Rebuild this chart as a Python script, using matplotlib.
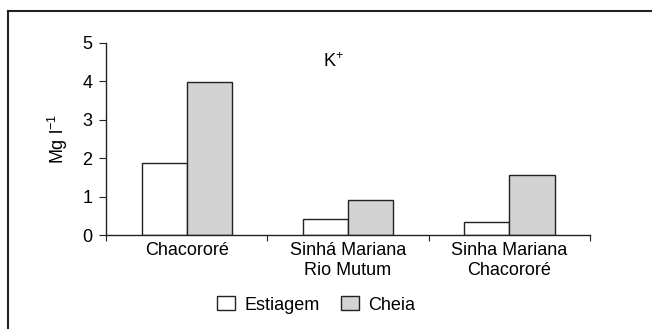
import numpy as np
import matplotlib
matplotlib.use("Agg")
import matplotlib.pyplot as plt
from matplotlib.lines import Line2D
from matplotlib.patches import Patch

plt.rcParams['font.family'] = ['Liberation Sans', 'DejaVu Sans']
plt.rcParams['mathtext.fontset'] = 'custom'
plt.rcParams['mathtext.rm'] = 'Liberation Sans'

# data
categories = ['Chacororé', 'Sinhá Mariana\nRio Mutum', 'Sinha Mariana\nChacororé']
estiagem = [1.87, 0.42, 0.35]
cheia = [3.98, 0.91, 1.57]
series_names = ['Estiagem', 'Cheia']
yticks = [0, 1, 2, 3, 4, 5]

fs = 13
fig = plt.figure(figsize=(6.52, 3.29), dpi=100)
ax = fig.add_axes([0.1626, 0.2842, 0.7424, 0.586])

x = np.arange(len(categories)) + 0.5
w = 0.28
ax.bar(x - w / 2, estiagem, w, color='white', edgecolor='#222222', linewidth=1.0)
ax.bar(x + w / 2, cheia, w, color='#d3d3d3', edgecolor='#222222', linewidth=1.0)

ax.set_xlim(0, len(categories))
ax.set_ylim(0, 5)
ax.set_yticks(yticks)
ax.set_xticks([0, 1, 2, 3])
ax.set_xticklabels([])
ax.set_xticks(x, minor=True)
ax.set_xticklabels(categories, minor=True, fontsize=fs, linespacing=1.2)
ax.tick_params(axis='x', which='minor', length=0, pad=5)
ax.tick_params(axis='x', which='major', length=4, direction='out', color='#222222')
ax.tick_params(axis='y', length=5, direction='out', labelsize=fs, pad=5, color='#222222')

for s in ['top', 'right']:
    ax.spines[s].set_visible(False)
for s in ['left', 'bottom']:
    ax.spines[s].set_color('#222222')
    ax.spines[s].set_linewidth(1.0)

ax.set_ylabel('Mg l$^{\\mathrm{-1}}$', fontsize=fs, labelpad=9)
ax.text(1.41, 4.5, 'K$^{\\mathrm{+}}$', fontsize=fs, ha='center', va='center')

handles = [Patch(facecolor='white', edgecolor='#222222', linewidth=1.0),
           Patch(facecolor='#d3d3d3', edgecolor='#222222', linewidth=1.0)]
fig.legend(handles, series_names, loc='center', bbox_to_anchor=(0.485, 0.073),
           ncol=2, frameon=False, fontsize=fs, handlelength=1.0, handleheight=0.8,
           handletextpad=0.5, columnspacing=1.2)

# partial outer frame (top and left edges)
fig.add_artist(Line2D([8 / 652, 1], [1 - 11 / 329, 1 - 11 / 329], color='#222222', lw=1.5,
                      transform=fig.transFigure))
fig.add_artist(Line2D([8 / 652, 8 / 652], [0, 1 - 11 / 329], color='#222222', lw=1.5,
                      transform=fig.transFigure))

plt.savefig('out.png', dpi=100)
